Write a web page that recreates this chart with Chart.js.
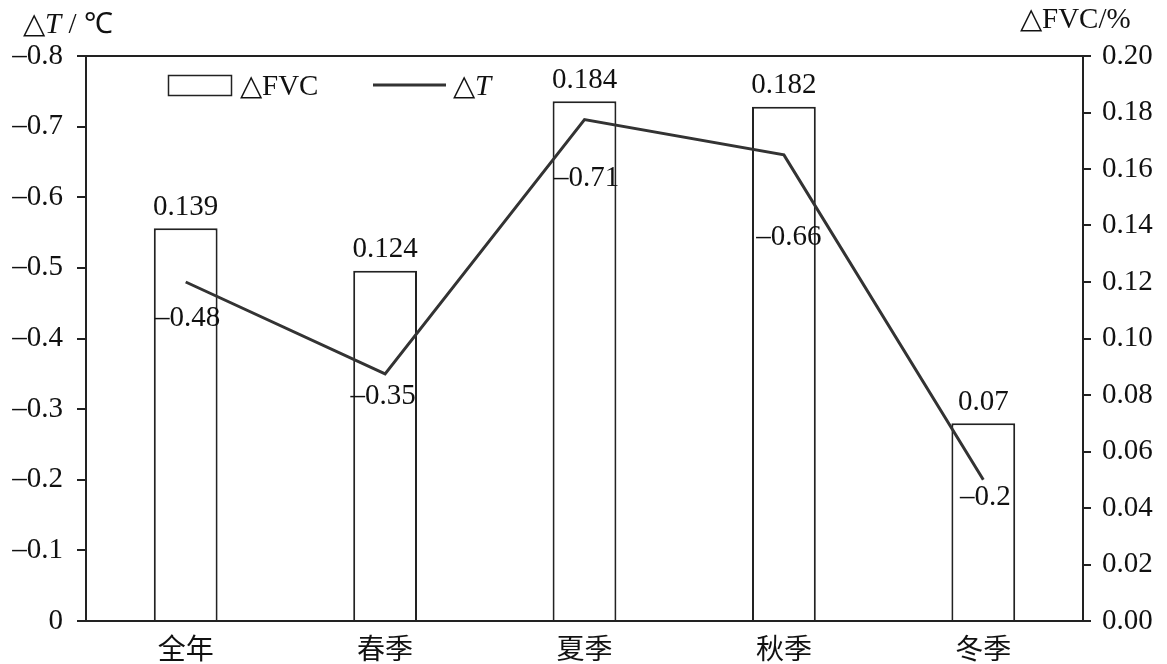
<!DOCTYPE html>
<html>
<head>
<meta charset="utf-8">
<script src="https://cdn.jsdelivr.net/npm/chart.js@4.4.1/dist/chart.umd.min.js"></script>
<style>
  html, body { margin: 0; padding: 0; background: #fff; }
  #wrap { width: 1167px; height: 664px; }
</style>
</head>
<body>
<div id="wrap"><canvas id="c" width="1167" height="664"></canvas></div>
<script>
// Seasonal change in vegetation cover (ΔFVC) and temperature (ΔT)
const seasons = ['全年', '春季', '夏季', '秋季', '冬季'];
const fvcChange = [0.139, 0.124, 0.184, 0.182, 0.07];
const tempChange = [-0.48, -0.35, -0.71, -0.66, -0.2];
const fvcLabels = ['0.139', '0.124', '0.184', '0.182', '0.07'];
const tempLabels = ['–0.48', '–0.35', '–0.71', '–0.66', '–0.2'];

const SERIF = '"Liberation Serif", "Times New Roman", serif';
const CJK = '"Noto Sans CJK SC", sans-serif';
const INK = '#222';
const FS = 29;

// vertical placement of the ΔT value labels below each vertex
const tempLabelDrop = [36, 23, 59, 83, 18];
const tempLabelShift = [2, -2, 2, 5, 2];

const annotate = {
  id: 'annotate',
  afterDatasetsDraw(chart) {
    const ctx = chart.ctx;
    const area = chart.chartArea;
    ctx.save();

    // frame top edge
    ctx.strokeStyle = INK;
    ctx.lineWidth = 2;
    ctx.beginPath();
    ctx.moveTo(area.left, area.top);
    ctx.lineTo(area.right, area.top);
    ctx.stroke();

    ctx.fillStyle = '#111';
    ctx.font = FS + 'px ' + SERIF;
    ctx.textAlign = 'center';
    ctx.textBaseline = 'middle';

    // bar value labels
    const barMeta = chart.getDatasetMeta(0);
    barMeta.data.forEach((bar, i) => {
      ctx.fillText(fvcLabels[i], bar.x, bar.y - 21);
    });

    // line value labels
    const lineMeta = chart.getDatasetMeta(1);
    lineMeta.data.forEach((pt, i) => {
      ctx.fillText(tempLabels[i], pt.x + tempLabelShift[i], pt.y + tempLabelDrop[i]);
    });

    // legend
    ctx.lineWidth = 1.5;
    ctx.strokeStyle = INK;
    ctx.strokeRect(168.5, 75.5, 63, 20);
    ctx.textAlign = 'left';
    ctx.fillText('△FVC', 240, 87);
    ctx.lineWidth = 3;
    ctx.strokeStyle = '#333';
    ctx.beginPath();
    ctx.moveTo(373, 85);
    ctx.lineTo(446, 85);
    ctx.stroke();
    ctx.fillText('△', 453, 87);
    const triW = ctx.measureText('△').width;
    ctx.font = 'italic ' + FS + 'px ' + SERIF;
    ctx.fillText('T', 453 + triW, 87);

    // axis titles
    ctx.font = FS + 'px ' + SERIF;
    ctx.fillText('△', 23, 25);
    ctx.font = 'italic ' + FS + 'px ' + SERIF;
    ctx.fillText('T', 23 + triW, 25);
    const tW = ctx.measureText('T').width;
    ctx.font = FS + 'px ' + SERIF;
    ctx.fillText(' / ℃', 23 + triW + tW, 25);

    ctx.fillText('△FVC/%', 1020, 20);
    ctx.restore();
  }
};

new Chart(document.getElementById('c'), {
  data: {
    labels: seasons,
    datasets: [
      {
        type: 'bar',
        label: '△FVC',
        data: fvcChange,
        yAxisID: 'yR',
        backgroundColor: '#fff',
        borderColor: INK,
        borderWidth: 2,
        barPercentage: 0.32,
        categoryPercentage: 1,
        order: 2
      },
      {
        type: 'line',
        label: '△T',
        data: tempChange,
        yAxisID: 'yL',
        borderColor: '#333',
        borderWidth: 3,
        pointRadius: 0,
        tension: 0,
        fill: false,
        order: 1
      }
    ]
  },
  options: {
    responsive: false,
    animation: false,
    layout: { padding: { top: 56, left: 0, right: 0, bottom: 0 } },
    plugins: {
      legend: { display: false },
      tooltip: { enabled: false }
    },
    scales: {
      x: {
        grid: { display: false },
        border: { display: true, color: INK, width: 2 },
        ticks: { color: '#111', font: { family: CJK, size: 28 }, padding: 3 },
        afterFit(s) { s.height = 43; }
      },
      yL: {
        position: 'left',
        reverse: true,
        min: -0.8,
        max: 0,
        grid: { drawOnChartArea: false, drawTicks: true, tickLength: 9, color: INK, lineWidth: 2 },
        border: { display: true, color: INK, width: 2 },
        ticks: {
          stepSize: 0.1,
          color: '#111',
          padding: 14,
          font: { family: SERIF, size: FS },
          callback(v) {
            const r = Math.round(v * 10) / 10;
            return r === 0 ? '0' : '–' + Math.abs(r).toFixed(1);
          }
        },
        afterFit(s) { s.width = 86; }
      },
      yR: {
        position: 'right',
        min: 0,
        max: 0.2,
        grid: { drawOnChartArea: false, drawTicks: true, tickLength: 8, color: INK, lineWidth: 2 },
        border: { display: true, color: INK, width: 2 },
        ticks: {
          stepSize: 0.02,
          color: '#111',
          padding: 11,
          font: { family: SERIF, size: FS },
          callback(v) { return (Math.round(v * 100) / 100).toFixed(2); }
        },
        afterFit(s) { s.width = 84; }
      }
    }
  },
  plugins: [annotate]
});
</script>
</body>
</html>
